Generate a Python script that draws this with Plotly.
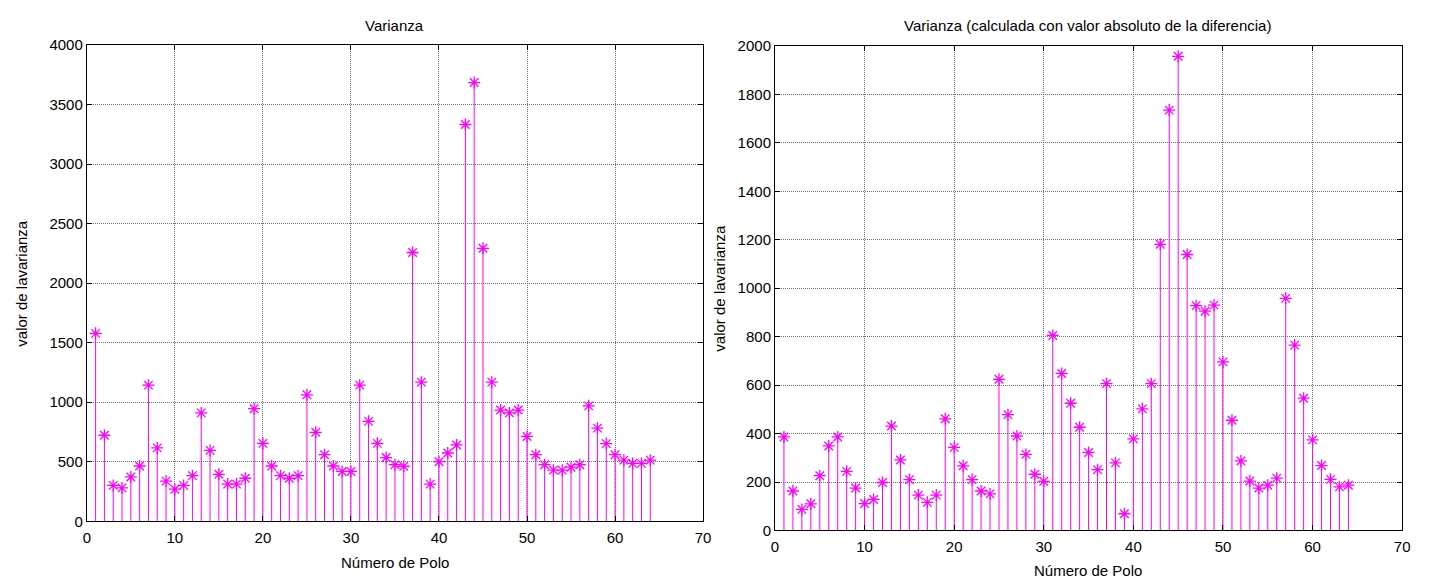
import plotly.graph_objects as go

polos = list(range(1, 65))

varianza = [1578, 722, 301, 280, 372, 464, 1143, 616, 337, 269,
            301, 383, 910, 595, 394, 312, 312, 361, 945, 654,
            464, 383, 361, 383, 1062, 747, 559, 464, 418, 418,
            1143, 839, 654, 535, 475, 462, 2257, 1168, 312, 500,
            573, 641, 3332, 3684, 2292, 1168, 934, 910, 934, 712,
            559, 475, 429, 429, 454, 475, 969, 782, 652, 559,
            513, 486, 486, 513]

varianza_abs = [386, 163, 87, 110, 226, 349, 386, 244, 175, 111,
                128, 198, 431, 291, 210, 146, 116, 146, 461, 343,
                267, 210, 163, 151, 624, 478, 390, 314, 232, 203,
                805, 648, 525, 426, 322, 251, 606, 279, 69, 378,
                502, 606, 1181, 1735, 1957, 1139, 928, 905, 930, 696,
                455, 287, 204, 175, 187, 216, 958, 765, 546, 374,
                268, 211, 180, 187]

titulos = ["Varianza", "Varianza (calculada con valor absoluto de la diferencia)"]
xlabel = "Número de Polo"
ylabel = "valor de lavarianza"

COLOR = "#FF00FF"
FONT = "Liberation Sans, Arial, sans-serif"

W = 1433
H = 588


def px(sx):
    return sx / W


def py(sy):
    return 1 - sy / H


fig = go.Figure()


def stems(xs, ys):
    sx, sy = [], []
    for a, b in zip(xs, ys):
        sx += [a, a, None]
        sy += [0, b, None]
    return sx, sy


for i, vals in enumerate([varianza, varianza_abs]):
    xa = "x" if i == 0 else "x2"
    ya = "y" if i == 0 else "y2"
    sx, sy = stems(polos, vals)
    fig.add_trace(go.Scatter(x=sx, y=sy, mode="lines", xaxis=xa, yaxis=ya,
                             line=dict(color=COLOR, width=1), hoverinfo="skip",
                             showlegend=False))
    fig.add_trace(go.Scatter(x=polos, y=vals, mode="markers", xaxis=xa, yaxis=ya,
                             marker=dict(symbol="asterisk-open", size=10,
                                         color=COLOR, line=dict(color=COLOR, width=1.3)),
                             showlegend=False))

axis_common = dict(showline=True, linecolor="black", linewidth=1, mirror="ticks",
                   ticks="inside", ticklen=5, tickcolor="black",
                   showgrid=True, gridcolor="#707070", gridwidth=1, griddash="1px,1px",
                   zeroline=False, tickfont=dict(family=FONT, size=15, color="black"))

fig.update_layout(
    width=W, height=H,
    margin=dict(l=0, r=0, t=0, b=0),
    paper_bgcolor="white", plot_bgcolor="white",
    font=dict(family=FONT, size=15, color="black"),
    xaxis=dict(domain=[px(83.5), px(705)], range=[0, 70], dtick=10, anchor="y",
               ticklabelstandoff=3, **axis_common),
    yaxis=dict(domain=[py(527.5), py(37)], range=[0, 4000], dtick=500, anchor="x", **axis_common),
    xaxis2=dict(domain=[px(777.5), px(1410)], range=[0, 70], dtick=10, anchor="y2",
                ticklabelstandoff=3, **axis_common),
    yaxis2=dict(domain=[py(537), py(38)], range=[0, 2000], dtick=200, anchor="x2", **axis_common),
)

ann = []
common = dict(xref="paper", yref="paper", showarrow=False, xanchor="center",
              yanchor="middle", font=dict(family=FONT, size=15, color="black"))
ann.append(dict(text=titulos[0], x=px(394), y=py(17), **common))
ann.append(dict(text=titulos[1], x=px(1093), y=py(17), **common))
ann.append(dict(text=xlabel, x=px(394), y=py(570), **common))
ann.append(dict(text=xlabel, x=px(1093), y=py(578), **common))
ann.append(dict(text=ylabel, x=px(18), y=py(282), textangle=-90, **common))
ann.append(dict(text=ylabel, x=px(722), y=py(287), textangle=-90, **common))
fig.update_layout(annotations=ann)

fig.write_html("out.html")
